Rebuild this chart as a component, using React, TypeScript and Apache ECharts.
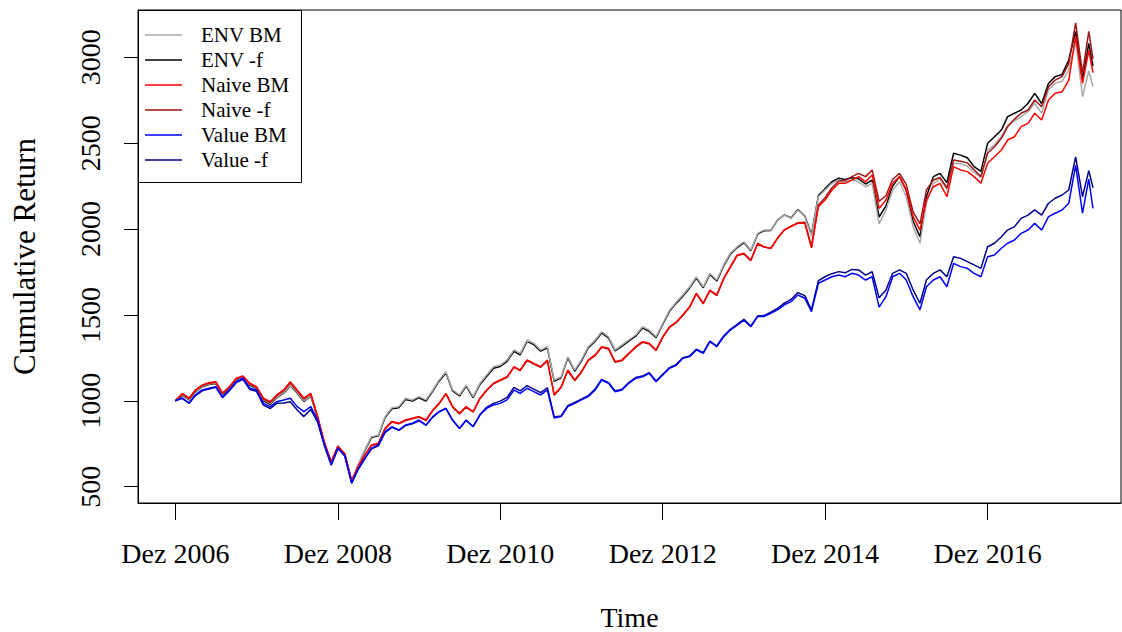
import React, { useEffect, useRef } from "react";
import * as echarts from "echarts";

// Monthly observations: Dec 2006 ... Mar 2018 (136 months) + last trading day shown
const firstYear = 2006;
const firstMonthIndex = 11; // December
const monthCount = 136;
const lastDate = "2018-03-20";

const envBM = [
  1000, 1035, 1008, 1055, 1085, 1098, 1104, 1038, 1076, 1125, 1140, 1094, 1076, 1005, 985, 1022, 1048, 1092, 1050, 1000, 1030, 900,
  752, 640, 738, 692, 530, 625,
  714, 791, 801, 908, 960, 966, 1015, 1005, 1024, 1005, 1063, 1121, 1169,
  1063, 1034, 1092, 1024, 1102, 1150, 1198, 1208, 1238, 1296, 1276, 1354, 1335, 1296, 1315,
  1120, 1140, 1257, 1179, 1238, 1315, 1354, 1402, 1373, 1296, 1325, 1354, 1383,
  1431, 1412, 1373, 1451, 1529, 1577, 1616, 1664, 1722, 1664, 1742, 1703, 1791, 1859, 1897,
  1926, 1878, 1975, 1994, 1994, 2053, 2081, 2062, 2111, 2072, 1960, 2188, 2227, 2266, 2285, 2275, 2285, 2275, 2246, 2266, 2030,
  2111, 2227, 2275, 2188, 2014, 1917, 2150, 2266, 2290, 2230, 2383, 2380, 2365, 2330, 2300, 2460, 2490, 2537, 2605, 2630, 2654, 2683, 2732, 2674, 2809, 2848, 2860, 2926, 3100, 2770, 2920,
  2830,
];

const envF = [
  1000, 1032, 1005, 1052, 1082, 1095, 1100, 1035, 1072, 1122, 1138, 1090, 1072, 1000, 980, 1018, 1044, 1088, 1045, 995, 1028, 898,
  750, 638, 735, 690, 528, 622,
  710, 786, 796, 902, 954, 960, 1008, 998, 1018, 999, 1056, 1114, 1162,
  1057, 1028, 1086, 1018, 1095, 1142, 1190, 1200, 1230, 1288, 1268, 1346, 1327, 1289, 1308,
  1114, 1134, 1250, 1172, 1231, 1308, 1347, 1395, 1366, 1290, 1318, 1347, 1376,
  1424, 1405, 1367, 1444, 1522, 1570, 1609, 1657, 1715, 1658, 1736, 1697, 1785, 1853, 1892,
  1921, 1873, 1970, 1990, 1992, 2052, 2082, 2064, 2114, 2076, 1968, 2195, 2235, 2275, 2296, 2288, 2298, 2292, 2262, 2285, 2070,
  2135, 2250, 2305, 2225, 2045, 1955, 2190, 2305, 2324, 2270, 2441, 2430, 2415, 2363, 2335, 2499, 2537, 2576, 2654, 2674, 2693, 2732, 2790, 2730, 2848, 2887, 2900, 2984, 3150, 2870, 3080,
  2950,
];

const naiveBM = [
  1000, 1043, 1016, 1063, 1092, 1105, 1111, 1045, 1082, 1131, 1144, 1102, 1082, 1015, 995, 1034, 1063, 1111, 1063, 1015, 1043, 908,
  760, 645, 735, 690, 535, 615,
  685, 743, 753, 840, 880, 869, 888, 898, 908, 888, 946, 985, 1043,
  966, 927, 966, 937, 1015, 1063, 1102, 1121, 1140, 1198, 1179, 1238, 1218, 1198, 1238,
  1035, 1082, 1179, 1121, 1169, 1238, 1267, 1315, 1306, 1228, 1238, 1276, 1315,
  1344, 1335, 1296, 1373, 1431, 1460, 1500, 1548, 1626, 1568, 1645, 1616, 1713, 1781, 1849,
  1859, 1820, 1917, 1897, 1888, 1946, 1994, 2014, 2033, 2033, 1890, 2130, 2169, 2227, 2266, 2266, 2285, 2305, 2275, 2314, 2120,
  2169, 2266, 2305, 2227, 2072, 1994, 2169, 2246, 2266, 2188, 2363, 2344, 2334, 2305, 2266, 2383, 2421, 2460, 2518, 2537, 2596, 2615, 2674, 2635, 2751, 2790, 2799, 2867, 3120, 2848, 3040,
  2910,
];

const naiveF = [
  1000, 1040, 1012, 1060, 1089, 1102, 1108, 1042, 1079, 1128, 1142, 1098, 1079, 1010, 990, 1030, 1058, 1104, 1058, 1010, 1040, 905,
  755, 642, 732, 688, 533, 612,
  682, 740, 750, 836, 876, 866, 885, 895, 905, 885, 943, 982, 1040,
  963, 924, 963, 934, 1012, 1060, 1099, 1118, 1137, 1195, 1176, 1234, 1214, 1195, 1234,
  1032, 1078, 1175, 1117, 1165, 1234, 1263, 1311, 1302, 1224, 1234, 1272, 1311,
  1340, 1331, 1292, 1369, 1427, 1456, 1496, 1544, 1622, 1564, 1641, 1612, 1709, 1777, 1845,
  1855, 1816, 1913, 1895, 1887, 1946, 1996, 2017, 2037, 2040, 1898, 2140, 2182, 2240, 2280, 2282, 2305, 2324, 2305, 2344, 2160,
  2195, 2290, 2324, 2260, 2100, 2030, 2227, 2285, 2300, 2240, 2402, 2395, 2385, 2345, 2305, 2441, 2479, 2528, 2596, 2640, 2674, 2693, 2751, 2712, 2828, 2867, 2887, 2964, 3200, 2906, 3150,
  2990,
];

const valueBM = [
  1000, 1016, 987, 1034, 1063, 1073, 1082, 1022, 1063, 1111, 1131, 1073, 1063, 985, 966, 995, 1005, 1015, 966, 937, 966, 888,
  745, 630, 725, 680, 522, 600,
  665, 724, 743, 820, 850, 830, 859, 869, 888, 859, 908, 937, 956,
  888, 840, 888, 849, 917, 956, 976, 985, 1005, 1063, 1043, 1073, 1053, 1034, 1063,
  900, 908, 966, 985, 1005, 1024, 1063, 1121, 1102, 1053, 1063, 1102, 1131,
  1140, 1160, 1111, 1150, 1189, 1208, 1247, 1257, 1296, 1276, 1344, 1315, 1373, 1412, 1441,
  1470, 1431, 1490, 1490, 1509, 1529, 1558, 1577, 1616, 1597, 1519, 1684, 1703, 1722, 1732, 1722, 1742, 1732, 1703, 1722, 1545,
  1606, 1722, 1742, 1703, 1606, 1529, 1664, 1703, 1722, 1664, 1800, 1781, 1771, 1742, 1722, 1839, 1849, 1888, 1917, 1936, 1975, 1994, 2033, 1994, 2072, 2092, 2111, 2150, 2370, 2092, 2290,
  2120,
];

const valueF = [
  1000, 1014, 985, 1030, 1058, 1068, 1078, 1018, 1058, 1106, 1125, 1066, 1055, 975, 955, 985, 987, 995, 946, 908, 950, 875,
  740, 625, 722, 678, 520, 598,
  662, 720, 738, 815, 845, 828, 856, 866, 884, 857, 905, 935, 955,
  886, 838, 886, 850, 920, 962, 985, 998, 1020, 1078, 1058, 1088, 1068, 1048, 1076,
  905, 912, 972, 990, 1010, 1030, 1068, 1125, 1106, 1057, 1067, 1106, 1135,
  1144, 1164, 1115, 1154, 1193, 1212, 1251, 1261, 1300, 1280, 1348, 1319, 1377, 1416, 1445,
  1474, 1435, 1494, 1496, 1516, 1538, 1568, 1590, 1630, 1612, 1530, 1700, 1722, 1740, 1752, 1745, 1765, 1762, 1732, 1751, 1600,
  1645, 1742, 1762, 1742, 1645, 1568, 1703, 1742, 1762, 1722, 1839, 1829, 1810, 1791, 1771, 1897, 1917, 1955, 1994, 2014, 2062, 2081, 2111, 2081, 2150, 2179, 2198, 2227, 2420, 2188, 2340,
  2240,
];

const legendNames = ["ENV BM", "ENV -f", "Naive BM", "Naive -f", "Value BM", "Value -f"];
const legendColors = ["#AAAAAA", "#000000", "#FF0000", "#A01515", "#0000FF", "#00008B"];

const xTickDates = ["2006-12-01", "2008-12-01", "2010-12-01", "2012-12-01", "2014-12-01", "2016-12-01"];
const xTickLabels = ["Dez 2006", "Dez 2008", "Dez 2010", "Dez 2012", "Dez 2014", "Dez 2016"];
const yTicks = [500, 1000, 1500, 2000, 2500, 3000];

const xAxisMin = "2006-06-16";
const xAxisMax = "2018-07-24";
const yAxisMin = 405;
const yAxisMax = 3275;

const FONT = '"Liberation Serif", "Times New Roman", serif';

function utc(s: string): number {
  return Date.parse(s + "T00:00:00Z");
}

function buildDates(): number[] {
  const out: number[] = [];
  for (let i = 0; i < monthCount; i++) out.push(Date.UTC(firstYear, firstMonthIndex + i, 1));
  out.push(utc(lastDate));
  return out;
}

export default function App() {
  const ref = useRef<HTMLDivElement>(null);

  useEffect(() => {
    if (!ref.current) return;
    const chart = echarts.init(ref.current, null, { renderer: "svg" });
    const dates = buildDates();
    const xTickValues = xTickDates.map(utc);

    const values: Record<string, number[]> = {
      "ENV BM": envBM,
      "ENV -f": envF,
      "Naive BM": naiveBM,
      "Naive -f": naiveF,
      "Value BM": valueBM,
      "Value -f": valueF,
    };
    // drawing order (later = on top)
    const drawOrder = ["ENV -f", "ENV BM", "Naive -f", "Naive BM", "Value -f", "Value BM"];

    const series = drawOrder.map((name) => {
      const idx = legendNames.indexOf(name);
      const arr = values[name];
      return {
        name,
        type: "line",
        data: dates.map((d, i) => [d, arr[i]]),
        showSymbol: false,
        symbol: "none",
        silent: true,
        lineStyle: { color: legendColors[idx], width: 1.5 },
        itemStyle: { color: legendColors[idx] },
      };
    });

    const legendGraphics: any[] = [
      {
        type: "rect",
        z: 100,
        shape: { x: 138.5, y: 10.5, width: 163, height: 172 },
        style: { fill: "#ffffff", stroke: "#000000", lineWidth: 1 },
      },
    ];
    legendNames.forEach((name, i) => {
      const y = 35 + 25 * i;
      legendGraphics.push({
        type: "line",
        z: 101,
        shape: { x1: 145, y1: y, x2: 182, y2: y },
        style: { stroke: legendColors[i], lineWidth: 1.5 },
      });
      legendGraphics.push({
        type: "text",
        z: 101,
        x: 201,
        y: y,
        style: {
          text: name,
          fill: "#000000",
          fontSize: 21,
          fontFamily: FONT,
          textAlign: "left",
          textVerticalAlign: "middle",
        },
      });
    });

    const option: any = {
      animation: false,
      backgroundColor: "#ffffff",
      textStyle: { fontFamily: FONT },
      grid: {
        left: 138,
        top: 10,
        width: 983,
        height: 493,
        show: true,
        borderColor: "#000000",
        borderWidth: 1,
        backgroundColor: "transparent",
        containLabel: false,
        outerBoundsMode: "none",
      },
      xAxis: {
        type: "value",
        min: utc(xAxisMin),
        max: utc(xAxisMax),
        axisLine: { show: true, lineStyle: { color: "#000000", width: 1 } },
        axisTick: {
          show: true,
          inside: false,
          length: 17,
          customValues: xTickValues,
          lineStyle: { color: "#000000", width: 1 },
        },
        axisLabel: {
          customValues: xTickValues,
          color: "#000000",
          fontFamily: FONT,
          fontSize: 28,
          margin: 36,
          hideOverlap: false,
          showMinLabel: true,
          showMaxLabel: true,
          formatter: (v: number) => {
            let best = 0;
            let bestD = Infinity;
            xTickValues.forEach((t, i) => {
              const d = Math.abs(t - v);
              if (d < bestD) {
                bestD = d;
                best = i;
              }
            });
            return xTickLabels[best];
          },
        },
        splitLine: { show: false },
        name: "Time",
        nameLocation: "middle",
        nameGap: 100,
        nameTextStyle: { color: "#000000", fontFamily: FONT, fontSize: 28, lineHeight: 28 },
      },
      yAxis: {
        type: "value",
        min: yAxisMin,
        max: yAxisMax,
        axisLine: { show: true, lineStyle: { color: "#000000", width: 1 } },
        axisTick: {
          show: true,
          inside: false,
          length: 14,
          customValues: yTicks,
          lineStyle: { color: "#000000", width: 1 },
        },
        axisLabel: {
          customValues: yTicks,
          rotate: 90,
          color: "#000000",
          fontFamily: FONT,
          fontSize: 28,
          margin: 34,
          formatter: (v: number) => String(v),
        },
        splitLine: { show: false },
        name: "Cumulative Return",
        nameLocation: "middle",
        nameGap: 98,
        nameRotate: 90,
        nameTextStyle: { color: "#000000", fontFamily: FONT, fontSize: 31 },
      },
      series,
      graphic: legendGraphics,
    };

    chart.setOption(option);
    return () => {
      chart.dispose();
    };
  }, []);

  return (
    <div
      ref={ref}
      style={{ position: "absolute", left: 0, top: 0, width: 1122, height: 632, background: "#ffffff" }}
    />
  );
}
